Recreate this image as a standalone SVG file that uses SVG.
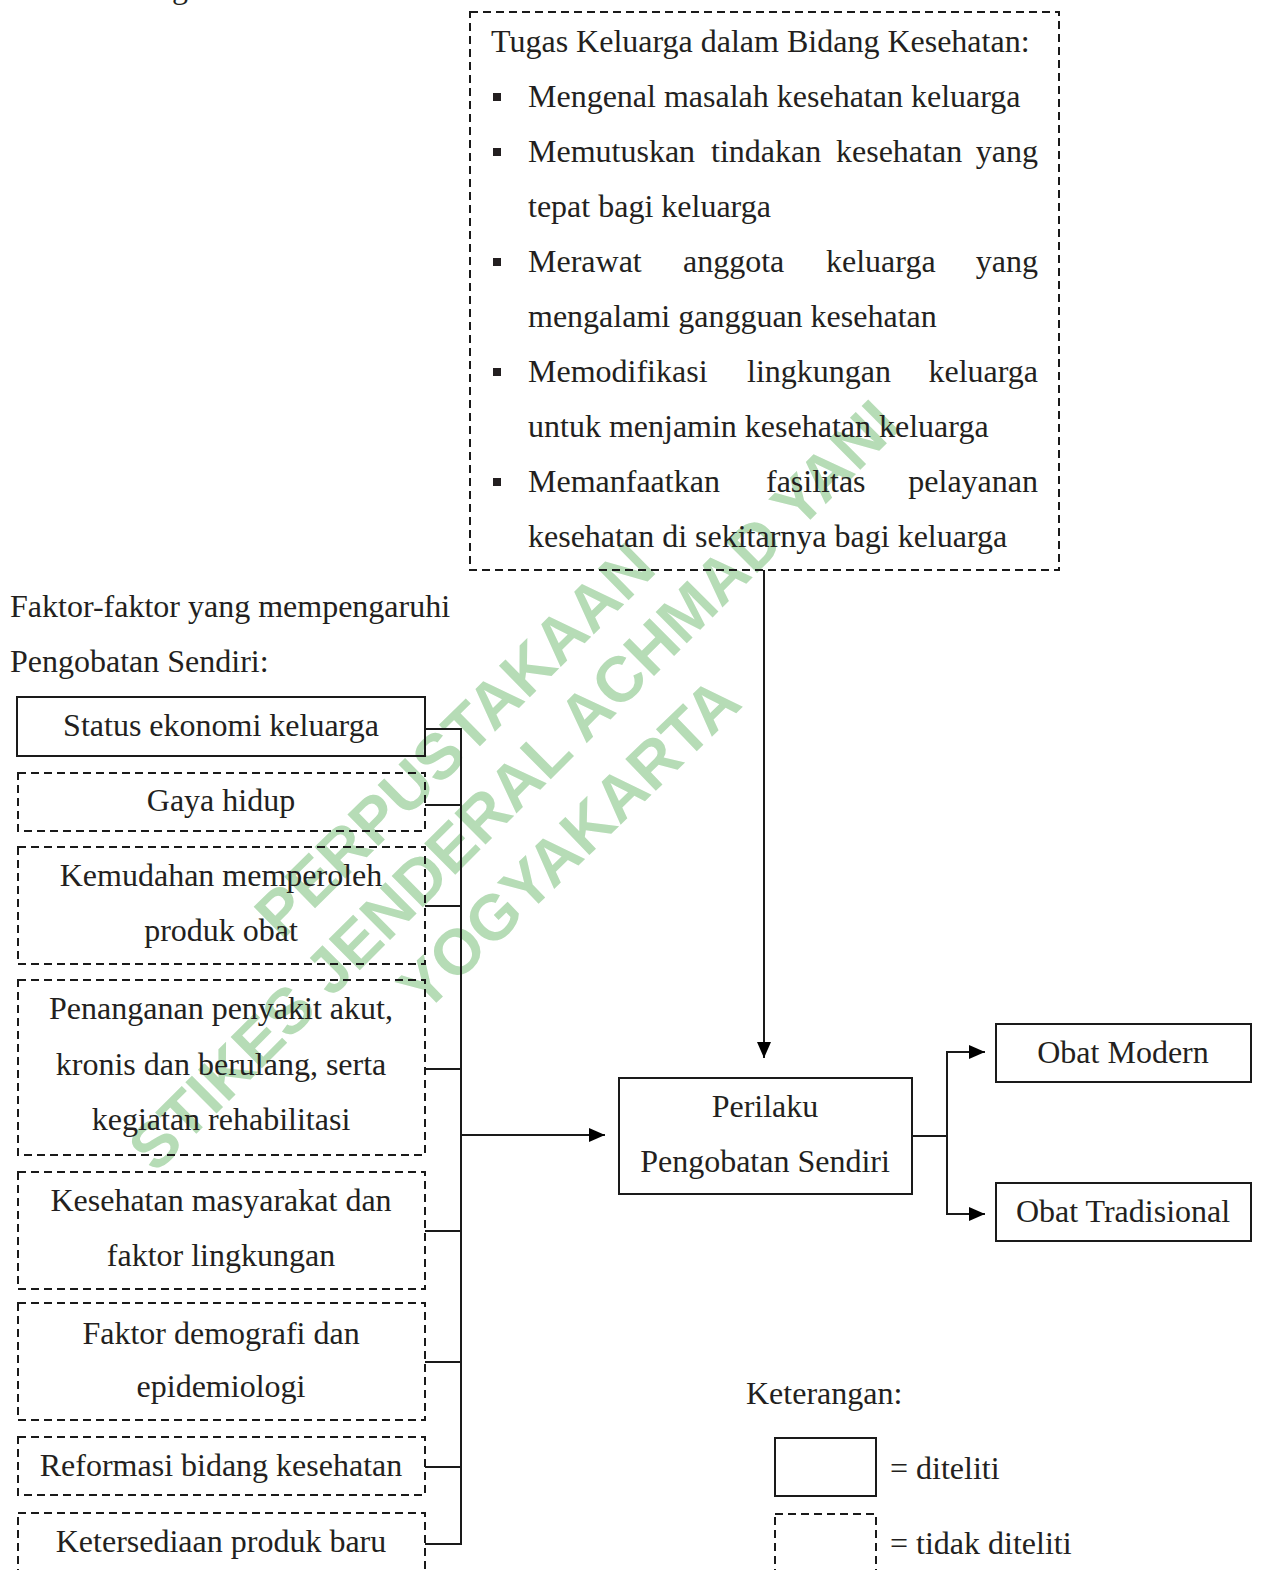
<svg xmlns="http://www.w3.org/2000/svg" width="1264" height="1570" viewBox="0 0 1264 1570">
<style>
.t{font-family:"Liberation Serif","Times New Roman",serif;font-size:32px;fill:#231f20}
.c{text-anchor:middle}
.e{text-anchor:end}
.box{fill:none;stroke:#1a1a1a;stroke-width:2}
.dash{stroke-dasharray:8 5}
.ln{fill:none;stroke:#1a1a1a;stroke-width:2}
.wm{font-family:"Liberation Sans",Arial,sans-serif;font-weight:bold;font-size:64px;fill:#b6dcb6;text-anchor:middle}
.bul{fill:#231f20}
</style>
<defs>
<marker id="arr" markerUnits="userSpaceOnUse" markerWidth="16" markerHeight="14" refX="16" refY="7" orient="auto">
<path d="M0,0 L16,7 L0,14 z" fill="#000"/>
</marker>
</defs>
<rect width="1264" height="1570" fill="#fff"/>
<g id="watermark">
<text class="wm" transform="translate(470,756) rotate(-44.5)">PERPUSTAKAAN</text>
<text class="wm" transform="translate(529,801) rotate(-45)">STIKES JENDERAL ACHMAD YANI</text>
<text class="wm" transform="translate(584,860) rotate(-44)">YOGYAKARTA</text>
</g>
<text class="t" x="172" y="-2">g</text>
<g id="tugas">
<rect class="box dash" x="470" y="12" width="589" height="558"/>
<text class="t" x="491" y="52">Tugas Keluarga dalam Bidang Kesehatan:</text>
<rect class="bul" x="493" y="93" width="8" height="8"/>
<text class="t" x="528" y="107">Mengenal masalah kesehatan keluarga</text>
<rect class="bul" x="493" y="148" width="8" height="8"/>
<text class="t" x="528" y="162">Memutuskan</text>
<text class="t" x="711" y="162">tindakan</text>
<text class="t" x="836" y="162">kesehatan</text>
<text class="t e" x="1038" y="162">yang</text>
<text class="t" x="528" y="217">tepat bagi keluarga</text>
<rect class="bul" x="493" y="258" width="8" height="8"/>
<text class="t" x="528" y="272">Merawat</text>
<text class="t" x="683" y="272">anggota</text>
<text class="t" x="826" y="272">keluarga</text>
<text class="t e" x="1038" y="272">yang</text>
<text class="t" x="528" y="327">mengalami gangguan kesehatan</text>
<rect class="bul" x="493" y="368" width="8" height="8"/>
<text class="t" x="528" y="382">Memodifikasi</text>
<text class="t" x="747" y="382">lingkungan</text>
<text class="t e" x="1038" y="382">keluarga</text>
<text class="t" x="528" y="437">untuk menjamin kesehatan keluarga</text>
<rect class="bul" x="493" y="478" width="8" height="8"/>
<text class="t" x="528" y="492">Memanfaatkan</text>
<text class="t" x="766" y="492">fasilitas</text>
<text class="t e" x="1038" y="492">pelayanan</text>
<text class="t" x="528" y="547">kesehatan di sekitarnya bagi keluarga</text>
</g>
<g id="faktor-title">
<text class="t" x="10" y="617">Faktor-faktor yang mempengaruhi</text>
<text class="t" x="10" y="672">Pengobatan Sendiri:</text>
</g>
<g id="status">
<rect class="box" x="17" y="697" width="408" height="59"/>
<text class="t c" x="221" y="736">Status ekonomi keluarga</text>
</g>
<g id="gaya">
<rect class="box dash" x="18" y="773" width="407" height="58"/>
<text class="t c" x="221" y="811">Gaya hidup</text>
</g>
<g id="kemudahan">
<rect class="box dash" x="18" y="847" width="407" height="117"/>
<text class="t c" x="221" y="886">Kemudahan memperoleh</text>
<text class="t c" x="221" y="941">produk obat</text>
</g>
<g id="penanganan">
<rect class="box dash" x="18" y="980" width="407" height="175"/>
<text class="t c" x="221" y="1019">Penanganan penyakit akut,</text>
<text class="t c" x="221" y="1075">kronis dan berulang, serta</text>
<text class="t c" x="221" y="1130">kegiatan rehabilitasi</text>
</g>
<g id="kesehatan">
<rect class="box dash" x="18" y="1172" width="407" height="117"/>
<text class="t c" x="221" y="1211">Kesehatan masyarakat dan</text>
<text class="t c" x="221" y="1266">faktor lingkungan</text>
</g>
<g id="demografi">
<rect class="box dash" x="18" y="1303" width="407" height="117"/>
<text class="t c" x="221" y="1344">Faktor demografi dan</text>
<text class="t c" x="221" y="1397">epidemiologi</text>
</g>
<g id="reformasi">
<rect class="box dash" x="18" y="1437" width="407" height="58"/>
<text class="t c" x="221" y="1476">Reformasi bidang kesehatan</text>
</g>
<g id="ketersediaan">
<rect class="box dash" x="18" y="1513" width="407" height="80"/>
<text class="t c" x="221" y="1552">Ketersediaan produk baru</text>
</g>
<g id="perilaku">
<rect class="box" x="619" y="1078" width="293" height="116"/>
<text class="t c" x="765" y="1117">Perilaku</text>
<text class="t c" x="765" y="1172">Pengobatan Sendiri</text>
</g>
<g id="modern">
<rect class="box" x="996" y="1024" width="255" height="58"/>
<text class="t c" x="1123" y="1063">Obat Modern</text>
</g>
<g id="tradisional">
<rect class="box" x="996" y="1183" width="255" height="58"/>
<text class="t c" x="1123" y="1222">Obat Tradisional</text>
</g>
<g id="connectors">
<path class="ln" d="M764,570 V1058" marker-end="url(#arr)"/>
<path class="ln" d="M425,729 H461 M425,805 H461 M425,906 H461 M425,1069 H461 M425,1231 H461 M425,1362 H461 M425,1467 H461 M425,1544 H461 M461,728 V1545"/>
<path class="ln" d="M461,1135 H605" marker-end="url(#arr)"/>
<path class="ln" d="M912,1136 H947 M947,1051 V1215"/>
<path class="ln" d="M946,1052 H985" marker-end="url(#arr)"/>
<path class="ln" d="M946,1214 H985" marker-end="url(#arr)"/>
</g>
<g id="legend">
<text class="t" x="746" y="1404">Keterangan:</text>
<rect class="box" x="775" y="1438" width="101" height="58"/>
<text class="t" x="890" y="1479">= diteliti</text>
<rect class="box dash" x="775" y="1514" width="101" height="80"/>
<text class="t" x="890" y="1554">= tidak diteliti</text>
</g>
</svg>
